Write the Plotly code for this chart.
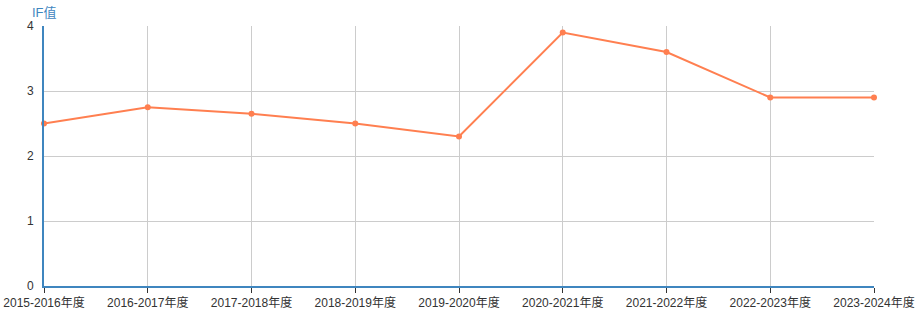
import plotly.graph_objects as go

categories = ["2015-2016年度", "2016-2017年度", "2017-2018年度", "2018-2019年度",
              "2019-2020年度", "2020-2021年度", "2021-2022年度", "2022-2023年度",
              "2023-2024年度"]
if_values = [2.5, 2.75, 2.65, 2.5, 2.3, 3.9, 3.6, 2.9, 2.9]
y_ticks = [0, 1, 2, 3, 4]

font_family = "Liberation Sans, Arial, Noto Sans CJK SC, sans-serif"

fig = go.Figure()
fig.add_trace(go.Scatter(
    x=categories, y=if_values, mode="lines+markers",
    line=dict(color="#ff7f50", width=2),
    marker=dict(color="#ff7f50", size=6),
    cliponaxis=False,
    hoverinfo="x+y", showlegend=False,
))

fig.update_layout(
    width=919, height=330,
    margin=dict(l=44, r=45, t=26, b=44),
    paper_bgcolor="white", plot_bgcolor="white",
    font=dict(family=font_family, size=12, color="#333"),
    xaxis=dict(
        type="category", range=[0, len(categories) - 1],
        automargin=False,
        showgrid=True, gridcolor="#cccccc", gridwidth=1,
        showline=True, linecolor="#3f86bf", linewidth=2,
        ticks="outside", ticklen=5, tickcolor="#333", tickwidth=1,
        tickfont=dict(size=12, color="#333"),
        zeroline=False,
    ),
    yaxis=dict(
        range=[0, 4], tickvals=y_ticks,
        automargin=False,
        showgrid=True, gridcolor="#cccccc", gridwidth=1,
        showline=True, linecolor="#3f86bf", linewidth=2,
        ticks="", ticklabelstandoff=6,
        tickfont=dict(size=12, color="#333"),
        zeroline=False,
    ),
    annotations=[dict(
        text="IF值", x=0, y=1, xref="paper", yref="paper",
        xanchor="center", yanchor="bottom", yshift=4, showarrow=False,
        font=dict(size=13, color="#3f86bf", family=font_family),
    )],
)

fig.write_html("out.html")
